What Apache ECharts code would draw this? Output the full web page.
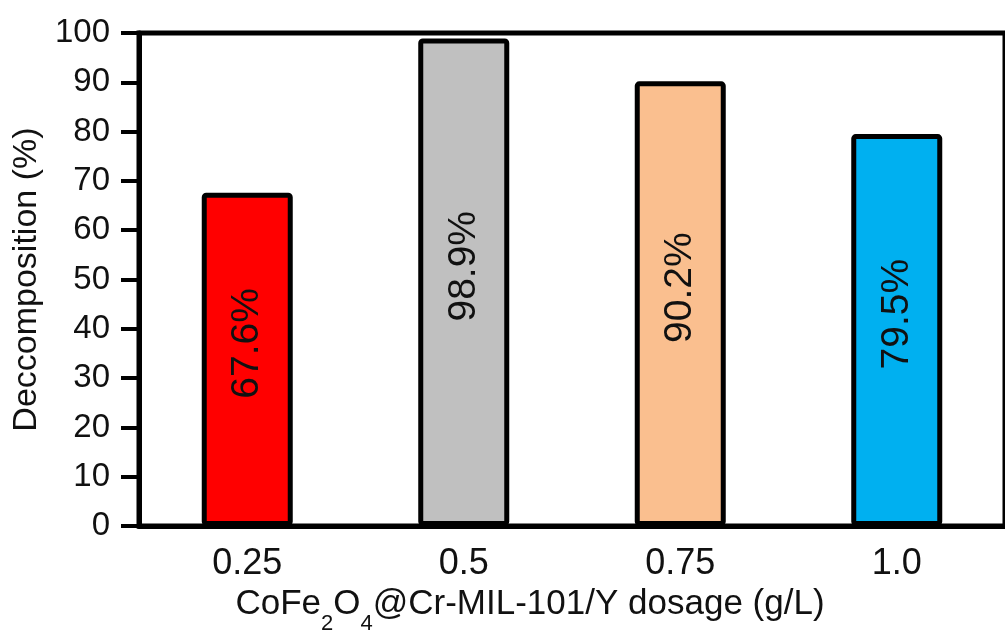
<!DOCTYPE html>
<html>
<head>
<meta charset="utf-8">
<script src="https://cdn.jsdelivr.net/npm/echarts@6/dist/echarts.min.js"></script>
<style>
html, body { margin: 0; padding: 0; background: #fff; }
#chart { width: 1005px; height: 640px; }
</style>
</head>
<body>
<div id="chart"></div>
<script>
var dosages = ['0.25', '0.5', '0.75', '1.0'];
var decomposition = [67.6, 98.9, 90.2, 79.5];
var barColors = ['#ff0000', '#c0c0c0', '#fabf8f', '#00b0f0'];

var font = 'Liberation Sans, Arial, sans-serif';
var myChart = echarts.init(document.getElementById('chart'));

var option = {
    animation: false,
    grid: {
        left: 139,
        right: -4,
        top: 33,
        bottom: 113,
        show: true,
        borderColor: '#000',
        borderWidth: 5
    },
    xAxis: {
        type: 'category',
        data: dosages,
        axisLine: { lineStyle: { color: '#000', width: 5 } },
        axisTick: { show: false },
        axisLabel: { color: '#111', fontSize: 36, fontFamily: font, margin: 20 },
        name: '{a|CoFe}{s|2}{a|O}{s|4}{a|@Cr-MIL-101/Y dosage (g/L)}',
        nameLocation: 'middle',
        nameGap: 60,
        nameTextStyle: {
            padding: [0, 84, 0, 0],
            rich: {
                a: { fontSize: 35, fontFamily: font, color: '#111', lineHeight: 40, verticalAlign: 'top' },
                s: { fontSize: 22, fontFamily: font, color: '#111', lineHeight: 22, verticalAlign: 'top', padding: [26, 0, 0, 0] }
            }
        }
    },
    yAxis: {
        type: 'value',
        min: 0,
        max: 100,
        interval: 10,
        splitLine: { show: false },
        axisLine: { show: true, lineStyle: { color: '#000', width: 5 } },
        axisTick: { show: true, length: 18, lineStyle: { color: '#000', width: 4 } },
        axisLabel: { color: '#111', fontSize: 33, fontFamily: font, margin: 29 },
        name: 'Deccomposition (%)',
        nameLocation: 'middle',
        nameGap: 91,
        nameTextStyle: { color: '#111', fontSize: 34, fontFamily: font }
    },
    series: [
        {
            type: 'bar',
            barWidth: 91,
            data: decomposition.map(function (v, i) {
                return { value: v, itemStyle: { color: barColors[i] } };
            }),
            itemStyle: { borderColor: '#000', borderWidth: 5, borderRadius: 2 },
            label: {
                show: true,
                position: 'inside',
                rotate: 90,
                offset: [16, 0],
                color: '#111',
                fontSize: 39,
                fontFamily: font,
                formatter: function (p) { return p.value.toFixed(1) + '%'; }
            }
        }
    ]
};
myChart.setOption(option);
</script>
</body>
</html>
